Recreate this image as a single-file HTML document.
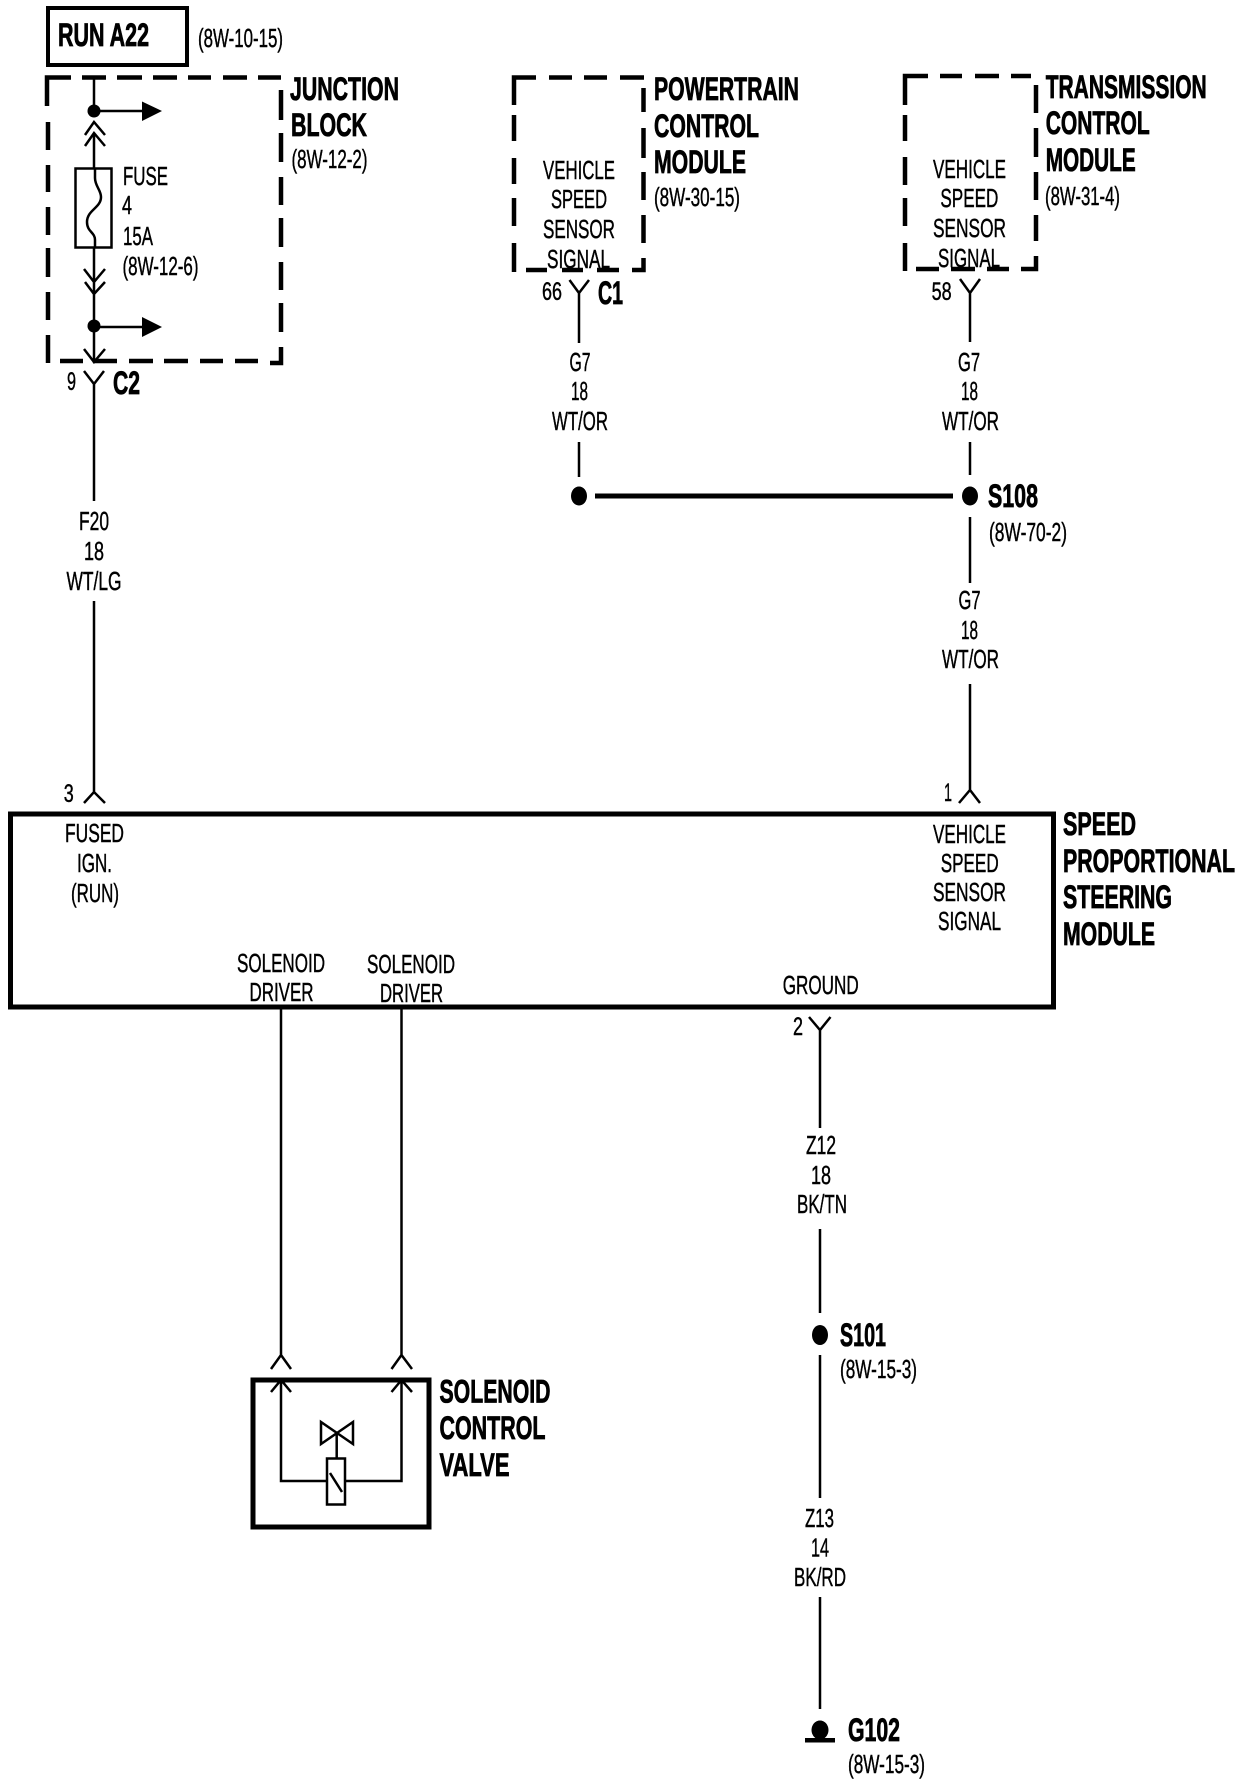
<!DOCTYPE html>
<html><head><meta charset="utf-8"><style>
html,body{margin:0;padding:0;background:#fff}
svg{display:block}
text{font-family:"Liberation Sans",sans-serif;fill:#000}
.b{font-weight:bold;font-size:32px;stroke:#000;stroke-width:.8px}
.r{font-size:26px;stroke:#000;stroke-width:.45px}
.s{font-size:25px;stroke:#000;stroke-width:.45px}
.w{stroke:#000;stroke-width:2.5;fill:none}
.d{stroke:#000;stroke-width:4.5;fill:none}
</style></head><body>
<svg width="1248" height="1784" viewBox="0 0 1248 1784" xmlns="http://www.w3.org/2000/svg">
<rect width="1248" height="1784" fill="#fff"/>

<!-- RUN box -->
<rect x="48" y="8" width="139" height="57" fill="none" stroke="#000" stroke-width="4"/>
<text class="b" x="58" y="46" textLength="91" lengthAdjust="spacingAndGlyphs">RUN A22</text>
<text class="r" x="198" y="47" textLength="85" lengthAdjust="spacingAndGlyphs">(8W-10-15)</text>

<!-- Junction block dashes -->
<path class="d" d="M47 106V77.500H71M82 77.500H106M117 77.500H142M153 77.500H177M188 77.500H211M223 77.500H247M258 77.500H281M48 122V150M48 165V192M48 207V235M48 248V277M48 292V320M48 335V363M281 90V120M281 133V162M281 177V205M281 218V247M281 262V290M281 303V332M281 347V363H270M60 361H83M93 361H117M129 361H153M164 361H188M200 361H223M235 361H258"/>
<text class="b" x="290" y="100" textLength="109" lengthAdjust="spacingAndGlyphs">JUNCTION</text>
<text class="b" x="291" y="136" textLength="76" lengthAdjust="spacingAndGlyphs">BLOCK</text>
<text class="r" x="291.500" y="168" textLength="76" lengthAdjust="spacingAndGlyphs">(8W-12-2)</text>

<!-- Fuse wiring -->
<path class="w" d="M94 77V112M94 111H144M94 133V168M85 135L94 122L105 135M85 146L94 133L105 146"/>
<circle cx="94" cy="111" r="6.500"/>
<path d="M142 101.500L162 111L142 121Z"/>
<rect x="75.500" y="168.500" width="36" height="79" fill="none" stroke="#000" stroke-width="2.500"/>
<path class="w" d="M95 168V178C95 186 101 190 101 197C101 208 87 210 87 222C87 232 95 232 95 240V248"/>
<path class="w" d="M94 248V363M84 269L94 282L105 269M85 282L94 294L105 282M94 327H144M84 349L94 362L105 349"/>
<circle cx="94" cy="326" r="6.500"/>
<path d="M142 317L162 327L142 337Z"/>
<text class="r" x="123" y="185" textLength="45" lengthAdjust="spacingAndGlyphs">FUSE</text>
<text class="r" x="122" y="214" textLength="10" lengthAdjust="spacingAndGlyphs">4</text>
<text class="r" x="123" y="245" textLength="30" lengthAdjust="spacingAndGlyphs">15A</text>
<text class="r" x="122.500" y="275" textLength="76" lengthAdjust="spacingAndGlyphs">(8W-12-6)</text>

<!-- C2 -->
<text class="s" x="67" y="390" textLength="9" lengthAdjust="spacingAndGlyphs">9</text>
<path class="w" d="M84 371L94 384L104 371M94 384V501M94 601V792M84 803L94 792L105 803"/>
<text class="b" x="113" y="394" textLength="27" lengthAdjust="spacingAndGlyphs">C2</text>
<text class="r" x="94" y="530" text-anchor="middle" textLength="30" lengthAdjust="spacingAndGlyphs">F20</text>
<text class="r" x="94" y="560" text-anchor="middle" textLength="20" lengthAdjust="spacingAndGlyphs">18</text>
<text class="r" x="94" y="590" text-anchor="middle" textLength="55" lengthAdjust="spacingAndGlyphs">WT/LG</text>

<!-- PCM -->
<path class="d" d="M514 105V77.500H536M549 77.500H572M584 77.500H607M620 77.500H644M643.500 88V112M643.500 128V158M643.500 172V200M643.500 215V243M643.500 258V270H632M619 270H597M583 270H562M547 270H526M514 272V243M514 226V198M514 184V158M514 141V115"/>
<text class="b" x="654" y="100" textLength="145" lengthAdjust="spacingAndGlyphs">POWERTRAIN</text>
<text class="b" x="654" y="137" textLength="105" lengthAdjust="spacingAndGlyphs">CONTROL</text>
<text class="b" x="654" y="173" textLength="92" lengthAdjust="spacingAndGlyphs">MODULE</text>
<text class="r" x="654" y="206" textLength="86" lengthAdjust="spacingAndGlyphs">(8W-30-15)</text>
<text class="r" x="543" y="179" textLength="72" lengthAdjust="spacingAndGlyphs">VEHICLE</text>
<text class="r" x="551" y="208" textLength="56" lengthAdjust="spacingAndGlyphs">SPEED</text>
<text class="r" x="543" y="238" textLength="72" lengthAdjust="spacingAndGlyphs">SENSOR</text>
<text class="r" x="547" y="268" textLength="63" lengthAdjust="spacingAndGlyphs">SIGNAL</text>
<text class="s" x="542" y="300" textLength="20" lengthAdjust="spacingAndGlyphs">66</text>
<path class="w" d="M569.500 280L579 293L589 280M579 293V343M579 442V477"/>
<text class="b" x="598" y="304" textLength="25" lengthAdjust="spacingAndGlyphs">C1</text>
<text class="r" x="580" y="371" text-anchor="middle" textLength="21" lengthAdjust="spacingAndGlyphs">G7</text>
<text class="r" x="579.500" y="400" text-anchor="middle" textLength="17" lengthAdjust="spacingAndGlyphs">18</text>
<text class="r" x="580" y="430" text-anchor="middle" textLength="56" lengthAdjust="spacingAndGlyphs">WT/OR</text>
<ellipse cx="579" cy="496" rx="8" ry="9.500"/>
<path d="M595 493.500H953V498.500H595Z"/>

<!-- TCM -->
<path class="d" d="M905 105V76H928M940 76H962M975 76H999M1011 76H1031M1036 85V113M1036 128V157M1036 172V200M1036 215V241M1036 256V269H1021M1009 269H987M975 269H951M939 269H916M905 271V243M905 226V198M905 185V157M905 141V115"/>
<text class="b" x="1045.700" y="98" textLength="161" lengthAdjust="spacingAndGlyphs">TRANSMISSION</text>
<text class="b" x="1045.700" y="134" textLength="104" lengthAdjust="spacingAndGlyphs">CONTROL</text>
<text class="b" x="1045.700" y="171" textLength="90" lengthAdjust="spacingAndGlyphs">MODULE</text>
<text class="r" x="1045" y="205" textLength="75" lengthAdjust="spacingAndGlyphs">(8W-31-4)</text>
<text class="r" x="933" y="178" textLength="73" lengthAdjust="spacingAndGlyphs">VEHICLE</text>
<text class="r" x="940.400" y="207" textLength="58" lengthAdjust="spacingAndGlyphs">SPEED</text>
<text class="r" x="933" y="237" textLength="73" lengthAdjust="spacingAndGlyphs">SENSOR</text>
<text class="r" x="938" y="267" textLength="62" lengthAdjust="spacingAndGlyphs">SIGNAL</text>
<text class="s" x="931.600" y="300" textLength="20" lengthAdjust="spacingAndGlyphs">58</text>
<path class="w" d="M960 279L970 293L980 279M970 293V342M970 442V475M970 517V583M970 684V790M959 803L970 790L980 803"/>
<text class="r" x="969" y="371" text-anchor="middle" textLength="22" lengthAdjust="spacingAndGlyphs">G7</text>
<text class="r" x="969.500" y="400" text-anchor="middle" textLength="17" lengthAdjust="spacingAndGlyphs">18</text>
<text class="r" x="970.500" y="430" text-anchor="middle" textLength="57" lengthAdjust="spacingAndGlyphs">WT/OR</text>
<ellipse cx="970" cy="496" rx="8" ry="9.500"/>
<text class="b" x="988" y="507" textLength="50" lengthAdjust="spacingAndGlyphs">S108</text>
<text class="r" x="989" y="541" textLength="78" lengthAdjust="spacingAndGlyphs">(8W-70-2)</text>
<text class="r" x="969.500" y="609" text-anchor="middle" textLength="22" lengthAdjust="spacingAndGlyphs">G7</text>
<text class="r" x="969.500" y="639" text-anchor="middle" textLength="17" lengthAdjust="spacingAndGlyphs">18</text>
<text class="r" x="970.500" y="668" text-anchor="middle" textLength="57" lengthAdjust="spacingAndGlyphs">WT/OR</text>

<!-- SPS Module -->
<rect x="10.500" y="814" width="1043" height="193" fill="none" stroke="#000" stroke-width="5"/>
<text class="s" x="63.700" y="802" textLength="10" lengthAdjust="spacingAndGlyphs">3</text>
<text class="s" x="944" y="801" textLength="8" lengthAdjust="spacingAndGlyphs">1</text>
<text class="r" x="65" y="842" textLength="59" lengthAdjust="spacingAndGlyphs">FUSED</text>
<text class="r" x="77" y="872" textLength="35" lengthAdjust="spacingAndGlyphs">IGN.</text>
<text class="r" x="71" y="902" textLength="48" lengthAdjust="spacingAndGlyphs">(RUN)</text>
<text class="r" x="237" y="972" textLength="88" lengthAdjust="spacingAndGlyphs">SOLENOID</text>
<text class="r" x="249.500" y="1001" textLength="64" lengthAdjust="spacingAndGlyphs">DRIVER</text>
<text class="r" x="367" y="973" textLength="88" lengthAdjust="spacingAndGlyphs">SOLENOID</text>
<text class="r" x="380" y="1002" textLength="63" lengthAdjust="spacingAndGlyphs">DRIVER</text>
<text class="r" x="933" y="843" textLength="73" lengthAdjust="spacingAndGlyphs">VEHICLE</text>
<text class="r" x="940.700" y="872" textLength="58" lengthAdjust="spacingAndGlyphs">SPEED</text>
<text class="r" x="933" y="901" textLength="73" lengthAdjust="spacingAndGlyphs">SENSOR</text>
<text class="r" x="938" y="930" textLength="63" lengthAdjust="spacingAndGlyphs">SIGNAL</text>
<text class="r" x="782.700" y="994" textLength="76" lengthAdjust="spacingAndGlyphs">GROUND</text>
<text class="b" x="1063" y="835" textLength="73" lengthAdjust="spacingAndGlyphs">SPEED</text>
<text class="b" x="1063" y="872" textLength="172" lengthAdjust="spacingAndGlyphs">PROPORTIONAL</text>
<text class="b" x="1063" y="908" textLength="109" lengthAdjust="spacingAndGlyphs">STEERING</text>
<text class="b" x="1063" y="945" textLength="92" lengthAdjust="spacingAndGlyphs">MODULE</text>

<!-- Solenoid wires -->
<path class="w" d="M281 1007V1355M271 1369L281 1355L291 1369M401.500 1007V1355M391.500 1369L401.500 1355L412 1369"/>
<rect x="253" y="1380" width="176" height="147" fill="none" stroke="#000" stroke-width="5"/>
<path class="w" d="M271 1392L281 1380L291 1392M391.500 1392L401.500 1380L412 1392M281 1380V1481H327M345 1481H401.500V1380M336.700 1433V1458"/>
<rect x="327" y="1458.500" width="18" height="46" fill="none" stroke="#000" stroke-width="2.500"/>
<path class="w" d="M330 1473L342 1492M321 1422V1444L353 1422V1444Z"/>
<text class="b" x="439.500" y="1402.700" textLength="111" lengthAdjust="spacingAndGlyphs">SOLENOID</text>
<text class="b" x="439.500" y="1439" textLength="106" lengthAdjust="spacingAndGlyphs">CONTROL</text>
<text class="b" x="439.500" y="1476" textLength="70" lengthAdjust="spacingAndGlyphs">VALVE</text>

<!-- Ground wire -->
<text class="s" x="793" y="1035" textLength="10" lengthAdjust="spacingAndGlyphs">2</text>
<path class="w" d="M809 1017L820 1030L830.500 1017M820 1030V1128M820 1229V1313M820 1355V1498M820 1597V1709"/>
<text class="r" x="821" y="1154" text-anchor="middle" textLength="30" lengthAdjust="spacingAndGlyphs">Z12</text>
<text class="r" x="821" y="1184" text-anchor="middle" textLength="20" lengthAdjust="spacingAndGlyphs">18</text>
<text class="r" x="822" y="1213" text-anchor="middle" textLength="50" lengthAdjust="spacingAndGlyphs">BK/TN</text>
<ellipse cx="820" cy="1335" rx="8" ry="10"/>
<text class="b" x="840" y="1346" textLength="46" lengthAdjust="spacingAndGlyphs">S101</text>
<text class="r" x="840" y="1378" textLength="77" lengthAdjust="spacingAndGlyphs">(8W-15-3)</text>
<text class="r" x="819.500" y="1527" text-anchor="middle" textLength="29" lengthAdjust="spacingAndGlyphs">Z13</text>
<text class="r" x="820" y="1556.700" text-anchor="middle" textLength="18" lengthAdjust="spacingAndGlyphs">14</text>
<text class="r" x="820" y="1586" text-anchor="middle" textLength="52" lengthAdjust="spacingAndGlyphs">BK/RD</text>
<ellipse cx="820" cy="1730" rx="8.500" ry="9.500"/>
<rect x="805" y="1738" width="30" height="4.500"/>
<text class="b" x="848" y="1741" textLength="52" lengthAdjust="spacingAndGlyphs">G102</text>
<text class="r" x="848" y="1773" textLength="77" lengthAdjust="spacingAndGlyphs">(8W-15-3)</text>
</svg>
</body></html>
